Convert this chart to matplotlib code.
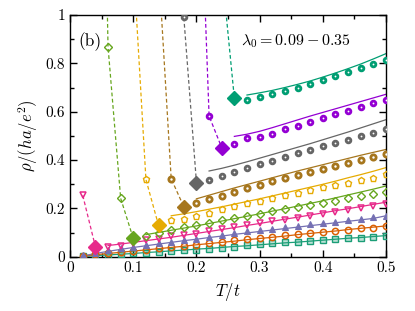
import numpy as np
import matplotlib
matplotlib.use("Agg")
import matplotlib.pyplot as plt

plt.rcParams['font.family'] = 'cmr10'
plt.rcParams['mathtext.fontset'] = 'cm'
plt.rcParams['axes.formatter.use_mathtext'] = True

# temperature grid T/t
T = [0.02, 0.04, 0.06, 0.08, 0.10, 0.12, 0.14, 0.16, 0.18, 0.20, 0.22, 0.24, 0.26,
     0.28, 0.30, 0.32, 0.34, 0.36, 0.38, 0.40, 0.42, 0.44, 0.46, 0.48, 0.50]

# resistivity per series (first value at T_start)
rho_sq = [0.002, 0.005, 0.008, 0.011, 0.014, 0.017, 0.020, 0.024, 0.027, 0.030, 0.034, 0.038, 0.042,
          0.048, 0.052, 0.057, 0.060, 0.063, 0.067, 0.069, 0.072, 0.076, 0.079, 0.082, 0.088]
rho_or = [0.004, 0.010, 0.015, 0.020, 0.025, 0.030, 0.035, 0.040, 0.045, 0.050, 0.056, 0.063, 0.070,
          0.075, 0.078, 0.083, 0.089, 0.094, 0.098, 0.104, 0.108, 0.112, 0.118, 0.121, 0.127]
rho_lav = [0.006, 0.017, 0.028, 0.036, 0.042, 0.050, 0.056, 0.062, 0.068, 0.074, 0.081, 0.090, 0.099,
           0.105, 0.110, 0.115, 0.122, 0.127, 0.134, 0.140, 0.145, 0.151, 0.158, 0.163, 0.169]
rho_pink = [0.254, 0.042, 0.042, 0.046, 0.058, 0.069, 0.072, 0.085, 0.089, 0.096, 0.105, 0.116, 0.123,
            0.130, 0.138, 0.147, 0.154, 0.162, 0.170, 0.178, 0.187, 0.193, 0.202, 0.210, 0.220]
rho_grn = [3.5, 0.868, 0.242, 0.076, 0.085, 0.100, 0.112, 0.125, 0.130, 0.141, 0.152, 0.159,
           0.169, 0.178, 0.188, 0.198, 0.206, 0.216, 0.224, 0.232, 0.242, 0.251, 0.261, 0.269]
rho_yel = [1.22, 0.320, 0.130, 0.152, 0.158, 0.170, 0.181, 0.196, 0.210, 0.222, 0.232, 0.242, 0.254,
           0.265, 0.276, 0.287, 0.297, 0.306, 0.316, 0.328, 0.341]
rho_brn = [1.2, 0.323, 0.207, 0.224, 0.240, 0.253, 0.269, 0.283, 0.297, 0.312, 0.326, 0.338, 0.350,
           0.364, 0.375, 0.386, 0.400, 0.414, 0.426]
rho_gry = [1.6, 0.99, 0.307, 0.319, 0.335, 0.352, 0.367, 0.382, 0.397, 0.411, 0.428, 0.441, 0.457,
           0.469, 0.484, 0.499, 0.512, 0.527]
rho_pur = [2.0, 0.582, 0.451, 0.468, 0.493, 0.497, 0.509, 0.527, 0.542, 0.559, 0.574, 0.590, 0.605,
           0.621, 0.636, 0.650]
rho_tea = [1.19, 0.655, 0.648, 0.660, 0.673, 0.687, 0.700, 0.716, 0.730, 0.749, 0.765, 0.779, 0.797, 0.812]

# fitted curves (solid lines), first value at the fit start temperature
fit_sq = [0.002, 0.005, 0.008, 0.011, 0.014, 0.018, 0.021, 0.025, 0.028, 0.032, 0.035, 0.039, 0.043,
          0.046, 0.050, 0.054, 0.058, 0.061, 0.065, 0.069, 0.073, 0.077, 0.080, 0.084, 0.088]
fit_or = [0.004, 0.009, 0.014, 0.019, 0.024, 0.029, 0.034, 0.039, 0.044, 0.050, 0.055, 0.060, 0.065,
          0.071, 0.076, 0.081, 0.086, 0.092, 0.097, 0.102, 0.107, 0.113, 0.118, 0.123, 0.128]
fit_lav = [0.004, 0.014, 0.023, 0.031, 0.039, 0.046, 0.053, 0.060, 0.067, 0.073, 0.080, 0.086, 0.093,
           0.099, 0.105, 0.111, 0.117, 0.123, 0.129, 0.135, 0.141, 0.147, 0.153, 0.159, 0.170]
fit_pink = [0.047, 0.053, 0.060, 0.067, 0.074, 0.081, 0.089, 0.097, 0.105, 0.113, 0.121, 0.130,
            0.138, 0.147, 0.156, 0.164, 0.173, 0.182, 0.191, 0.199, 0.208, 0.217, 0.226]
fit_grn = [0.092, 0.101, 0.110, 0.119, 0.128, 0.138, 0.148, 0.158, 0.168, 0.178, 0.189, 0.199,
           0.210, 0.221, 0.232, 0.244, 0.256, 0.268, 0.280, 0.293]
fit_yel = [0.170, 0.178, 0.187, 0.197, 0.207, 0.218, 0.229, 0.240, 0.252, 0.264, 0.276, 0.288,
           0.300, 0.313, 0.327, 0.340, 0.354, 0.369]
fit_brn = [0.240, 0.255, 0.270, 0.285, 0.299, 0.313, 0.327, 0.341, 0.355, 0.368, 0.381, 0.394,
           0.407, 0.420, 0.432, 0.444]
fit_gry = [0.355, 0.366, 0.379, 0.393, 0.408, 0.423, 0.438, 0.453, 0.468, 0.484, 0.500, 0.516,
           0.533, 0.550, 0.567]
fit_pur = [0.498, 0.507, 0.519, 0.534, 0.550, 0.566, 0.582, 0.597, 0.612, 0.627, 0.642, 0.657, 0.672]
fit_tea = [0.669, 0.678, 0.688, 0.700, 0.713, 0.727, 0.743, 0.760, 0.778, 0.797, 0.818, 0.840]

# (values, T_start, T_min or None, fit values, fit T_start, colour, marker style)
ring = dict(marker='o', ms=3.4, mfc='white', mew=2.0)
series = [
    (rho_sq, 0.02, None, fit_sq, 0.02, '#1b9e77', dict(marker='s', ms=4.2, mfc=(0.106, 0.62, 0.467, 0.3), mew=1.0)),
    (rho_or, 0.02, None, fit_or, 0.02, '#d95f02', dict(marker='o', ms=4.5, mfc='none', mew=1.1)),
    (rho_lav, 0.02, None, fit_lav, 0.02, '#7570b3', dict(marker='^', ms=4.8, mew=0.8)),
    (rho_pink, 0.02, 0.04, fit_pink, 0.06, '#e7298a', dict(marker='v', ms=4.8, mfc='none', mew=1.1)),
    (rho_grn, 0.04, 0.10, fit_grn, 0.12, '#66a61e', dict(marker='D', ms=3.6, mfc='none', mew=1.0)),
    (rho_yel, 0.10, 0.14, fit_yel, 0.16, '#e6ab02', dict(marker='p', ms=4.8, mfc='none', mew=1.0)),
    (rho_brn, 0.14, 0.18, fit_brn, 0.20, '#a6761d', dict(ring, ms=3.8)),
    (rho_gry, 0.16, 0.20, fit_gry, 0.22, '#666666', ring),
    (rho_pur, 0.20, 0.24, fit_pur, 0.26, '#9400d3', ring),
    (rho_tea, 0.24, 0.26, fit_tea, 0.28, '#009e73', ring),
]

fig = plt.figure(figsize=(4.15, 3.11), dpi=100)
ax = fig.add_axes([0.169, 0.174, 0.761, 0.778])

for vals, t0, tmin, fit, tf, col, mstyle in series:
    i0 = T.index(t0)
    tt = np.array(T[i0:i0 + len(vals)])
    rr = np.array(vals)
    ft = np.array(T[T.index(tf):T.index(tf) + len(fit)])
    ax.plot(ft, fit, '-', color=col, lw=0.9, zorder=2)
    if tmin is not None:
        k = int(np.argmin(np.abs(tt - tmin)))
        ax.plot(tt[:k + 1], rr[:k + 1], '--', color=col, lw=0.9, dashes=(3, 2), zorder=2)
        keep = np.arange(len(tt)) != k
        ax.plot(tt[keep], rr[keep], ls='none', color=col, mec=col, zorder=3, **mstyle)
        ax.plot(tt[k], rr[k], ls='none', marker='D', ms=7.5, color=col, zorder=4)
    else:
        ax.plot(tt, rr, ls='none', color=col, mec=col, zorder=3, **mstyle)

ax.set_xlim(0, 0.5)
ax.set_ylim(0, 1)
ax.set_xticks([0, 0.1, 0.2, 0.3, 0.4, 0.5])
ax.set_xticklabels(['0', '0.1', '0.2', '0.3', '0.4', '0.5'])
ax.set_yticks([0, 0.2, 0.4, 0.6, 0.8, 1.0])
ax.set_yticklabels(['0', '0.2', '0.4', '0.6', '0.8', '1'])
ax.set_xticks([0.05, 0.15, 0.25, 0.35, 0.45], minor=True)
ax.set_yticks([0.1, 0.3, 0.5, 0.7, 0.9], minor=True)
ax.tick_params(which='both', direction='in', top=True, right=True, labelsize=11)
ax.tick_params(which='major', length=5, width=1)
ax.tick_params(which='minor', length=3, width=1)
for s in ax.spines.values():
    s.set_linewidth(1.0)

ax.set_xlabel(r'$T/t$', fontsize=12)
ax.set_ylabel(r'$\rho/(ha/e^2)$', fontsize=12)
ax.text(0.025, 0.87, '(b)', transform=ax.transAxes, fontsize=12.5)
ax.text(0.54, 0.875, r'$\lambda_0 = 0.09 - 0.35$', transform=ax.transAxes, fontsize=11.5)

fig.savefig('out.png', dpi=100)
